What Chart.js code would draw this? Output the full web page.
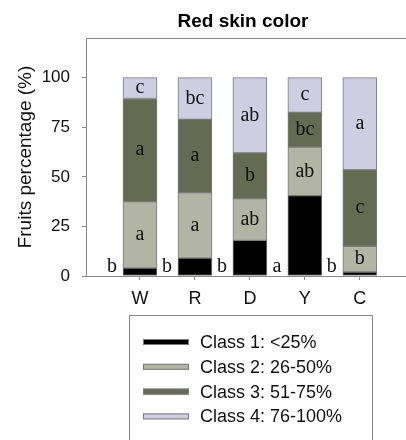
<!DOCTYPE html>
<html>
<head>
<meta charset="utf-8">
<script src="https://cdn.jsdelivr.net/npm/chart.js@4.4.0/dist/chart.umd.min.js"></script>
<style>
  html, body { margin: 0; padding: 0; background: #fff; }
  #wrap { width: 406px; height: 440px; }
</style>
</head>
<body>
<div id="wrap"><canvas id="chart"></canvas></div>
<script>
const treatments = ['W', 'R', 'D', 'Y', 'C'];
const class1 = [4, 9, 18, 40.5, 2];
const class2 = [33.5, 33, 21, 24.5, 13];
const class3 = [52, 37, 23, 17.5, 38.5];
const class4 = [10.5, 21, 38, 17.5, 46.5];
const class1Letters = ['b', 'b', 'b', 'a', 'b'];
const class2Letters = ['a', 'a', 'ab', 'ab', 'b'];
const class3Letters = ['a', 'a', 'b', 'bc', 'c'];
const class4Letters = ['c', 'bc', 'ab', 'c', 'a'];
const yTicks = [0, 25, 50, 75, 100];
const classNames = ['Class 1: <25%', 'Class 2: 26-50%', 'Class 3: 51-75%', 'Class 4: 76-100%'];
const classColors = ['#000000', '#b2b5a4', '#646b52', '#cdcee2'];

const sansFont = "Arial, 'Liberation Sans', sans-serif";
const serifFont = "'Times New Roman', 'Liberation Serif', serif";
const axisGray = '#8a8a8a';

function toPoints(values) {
    return values.map((v, i) => ({ x: i + 1, y: v }));
}

const allValues = [class1, class2, class3, class4];
const allLetters = [class1Letters, class2Letters, class3Letters, class4Letters];

const datasets = allValues.map((vals, k) => ({
    label: classNames[k],
    data: toPoints(vals),
    backgroundColor: classColors[k],
    borderColor: '#7a7a7a',
    borderWidth: 1,
    borderSkipped: false,
    barThickness: 34,
    stack: 'all'
}));

// letters in the segments, title, top frame line and the boxed legend
const extrasPlugin = {
    id: 'extras',
    afterDatasetsDraw(chart) {
        const ctx = chart.ctx;
        const area = chart.chartArea;
        ctx.save();

        // top frame line
        ctx.strokeStyle = axisGray;
        ctx.lineWidth = 1;
        ctx.beginPath();
        ctx.moveTo(area.left, area.top + 0.5);
        ctx.lineTo(chart.width, area.top + 0.5);
        ctx.stroke();

        ctx.font = '20px ' + serifFont;
        ctx.fillStyle = '#111';
        ctx.textAlign = 'center';
        ctx.textBaseline = 'middle';
        chart.data.datasets.forEach((ds, d) => {
            const meta = chart.getDatasetMeta(d);
            meta.data.forEach((bar, i) => {
                const txt = allLetters[d][i];
                if (d === 0) {
                    ctx.fillText(txt, bar.x - 28, bar.base - 9);
                } else {
                    ctx.fillText(txt, bar.x, (bar.y + bar.base) / 2);
                }
            });
        });

        // title centred over the plot frame
        ctx.font = 'bold 19px ' + sansFont;
        ctx.fillStyle = '#000';
        ctx.fillText('Red skin color', 243, 22);

        // legend box
        ctx.strokeStyle = axisGray;
        ctx.strokeRect(129.5, 315.5, 243, 140);
        ctx.font = '18px ' + sansFont;
        ctx.textAlign = 'left';
        chart.data.datasets.forEach((ds, d) => {
            const rowY = 342 + d * 24.8;
            ctx.fillStyle = ds.backgroundColor;
            ctx.fillRect(143, rowY - 3, 46, 6);
            ctx.strokeStyle = '#7a7a7a';
            ctx.strokeRect(143.5, rowY - 2.5, 45, 5);
            ctx.fillStyle = '#111';
            ctx.fillText(ds.label, 200, rowY + 1);
        });

        ctx.restore();
    }
};

new Chart(document.getElementById('chart'), {
    type: 'bar',
    data: { datasets: datasets },
    plugins: [extrasPlugin],
    options: {
        responsive: true,
        maintainAspectRatio: false,
        animation: false,
        layout: { padding: { top: 38, right: 0, bottom: 134, left: 0 } },
        plugins: {
            legend: { display: false },
            title: { display: false },
            tooltip: { enabled: false }
        },
        scales: {
            x: {
                type: 'linear',
                offset: false,
                min: 0.018,
                max: 5.84,
                afterBuildTicks: (scale) => {
                    scale.ticks = treatments.map((t, i) => ({ value: i + 1 }));
                },
                afterFit: (scale) => { scale.height = 30; },
                border: { display: true, color: axisGray, width: 1 },
                grid: { offset: false, drawOnChartArea: false, drawTicks: true, tickLength: 4, color: axisGray },
                ticks: {
                    autoSkip: false,
                    maxRotation: 0,
                    padding: 8,
                    color: '#111',
                    font: { family: sansFont, size: 18 },
                    callback: (v) => treatments[v - 1]
                }
            },
            y: {
                stacked: true,
                min: 0,
                max: 120,
                afterBuildTicks: (scale) => {
                    scale.ticks = yTicks.map(v => ({ value: v }));
                },
                afterFit: (scale) => { scale.width = 86; },
                border: { display: true, color: axisGray, width: 1 },
                grid: { drawOnChartArea: false, drawTicks: true, tickLength: 4, color: axisGray },
                ticks: {
                    padding: 12,
                    color: '#111',
                    font: { family: sansFont, size: 17 }
                },
                title: {
                    display: true,
                    text: 'Fruits percentage (%)',
                    color: '#111',
                    font: { family: sansFont, size: 19 },
                    padding: { top: 14, bottom: 0 }
                }
            }
        }
    }
});
</script>
</body>
</html>
